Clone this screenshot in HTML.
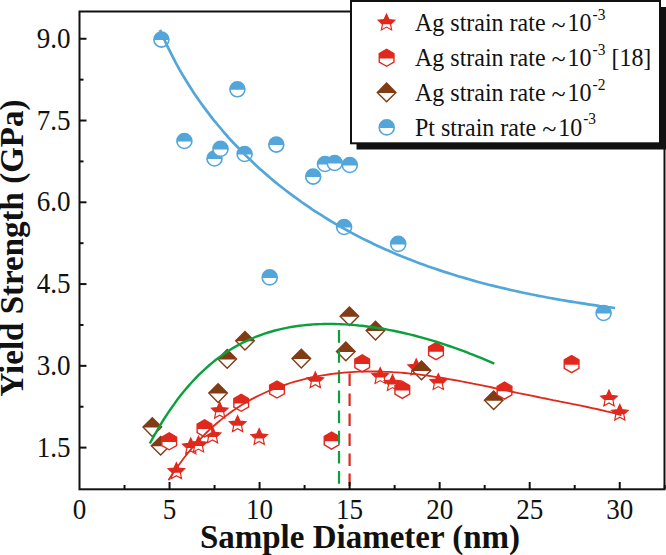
<!DOCTYPE html>
<html><head><meta charset="utf-8"><style>
html,body{margin:0;padding:0;background:#fff;}
svg{display:block;}
text{font-family:"Liberation Serif",serif;}
</style></head><body>
<svg width="666" height="555" viewBox="0 0 666 555">
<rect width="666" height="555" fill="#fff"/>
<path d="M176.40,462.80 L173.95,468.12 L168.13,468.81 L172.43,472.79 L171.29,478.54 L176.40,475.68 L181.51,478.54 L180.37,472.79 L184.67,468.81 L178.85,468.12Z" fill="#fff"/><clipPath id="c1"><rect x="163.4" y="458.5" width="26" height="14.2"/></clipPath><path d="M176.40,462.80 L173.95,468.12 L168.13,468.81 L172.43,472.79 L171.29,478.54 L176.40,475.68 L181.51,478.54 L180.37,472.79 L184.67,468.81 L178.85,468.12Z" fill="#e0281c" clip-path="url(#c1)"/><path d="M176.40,462.80 L173.95,468.12 L168.13,468.81 L172.43,472.79 L171.29,478.54 L176.40,475.68 L181.51,478.54 L180.37,472.79 L184.67,468.81 L178.85,468.12Z" fill="none" stroke="#e0281c" stroke-width="1.2" stroke-linejoin="miter" stroke-miterlimit="10"/>
<path d="M190.80,438.10 L188.35,443.42 L182.53,444.11 L186.83,448.09 L185.69,453.84 L190.80,450.98 L195.91,453.84 L194.77,448.09 L199.07,444.11 L193.25,443.42Z" fill="#fff"/><clipPath id="c2"><rect x="177.8" y="433.8" width="26" height="14.2"/></clipPath><path d="M190.80,438.10 L188.35,443.42 L182.53,444.11 L186.83,448.09 L185.69,453.84 L190.80,450.98 L195.91,453.84 L194.77,448.09 L199.07,444.11 L193.25,443.42Z" fill="#e0281c" clip-path="url(#c2)"/><path d="M190.80,438.10 L188.35,443.42 L182.53,444.11 L186.83,448.09 L185.69,453.84 L190.80,450.98 L195.91,453.84 L194.77,448.09 L199.07,444.11 L193.25,443.42Z" fill="none" stroke="#e0281c" stroke-width="1.2" stroke-linejoin="miter" stroke-miterlimit="10"/>
<path d="M198.50,436.20 L196.05,441.52 L190.23,442.21 L194.53,446.19 L193.39,451.94 L198.50,449.08 L203.61,451.94 L202.47,446.19 L206.77,442.21 L200.95,441.52Z" fill="#fff"/><clipPath id="c3"><rect x="185.5" y="431.90000000000003" width="26" height="14.2"/></clipPath><path d="M198.50,436.20 L196.05,441.52 L190.23,442.21 L194.53,446.19 L193.39,451.94 L198.50,449.08 L203.61,451.94 L202.47,446.19 L206.77,442.21 L200.95,441.52Z" fill="#e0281c" clip-path="url(#c3)"/><path d="M198.50,436.20 L196.05,441.52 L190.23,442.21 L194.53,446.19 L193.39,451.94 L198.50,449.08 L203.61,451.94 L202.47,446.19 L206.77,442.21 L200.95,441.52Z" fill="none" stroke="#e0281c" stroke-width="1.2" stroke-linejoin="miter" stroke-miterlimit="10"/>
<path d="M212.50,427.00 L210.05,432.32 L204.23,433.01 L208.53,436.99 L207.39,442.74 L212.50,439.88 L217.61,442.74 L216.47,436.99 L220.77,433.01 L214.95,432.32Z" fill="#fff"/><clipPath id="c4"><rect x="199.5" y="422.70000000000005" width="26" height="14.2"/></clipPath><path d="M212.50,427.00 L210.05,432.32 L204.23,433.01 L208.53,436.99 L207.39,442.74 L212.50,439.88 L217.61,442.74 L216.47,436.99 L220.77,433.01 L214.95,432.32Z" fill="#e0281c" clip-path="url(#c4)"/><path d="M212.50,427.00 L210.05,432.32 L204.23,433.01 L208.53,436.99 L207.39,442.74 L212.50,439.88 L217.61,442.74 L216.47,436.99 L220.77,433.01 L214.95,432.32Z" fill="none" stroke="#e0281c" stroke-width="1.2" stroke-linejoin="miter" stroke-miterlimit="10"/>
<path d="M219.70,402.30 L217.25,407.62 L211.43,408.31 L215.73,412.29 L214.59,418.04 L219.70,415.18 L224.81,418.04 L223.67,412.29 L227.97,408.31 L222.15,407.62Z" fill="#fff"/><clipPath id="c5"><rect x="206.7" y="398.0" width="26" height="14.2"/></clipPath><path d="M219.70,402.30 L217.25,407.62 L211.43,408.31 L215.73,412.29 L214.59,418.04 L219.70,415.18 L224.81,418.04 L223.67,412.29 L227.97,408.31 L222.15,407.62Z" fill="#e0281c" clip-path="url(#c5)"/><path d="M219.70,402.30 L217.25,407.62 L211.43,408.31 L215.73,412.29 L214.59,418.04 L219.70,415.18 L224.81,418.04 L223.67,412.29 L227.97,408.31 L222.15,407.62Z" fill="none" stroke="#e0281c" stroke-width="1.2" stroke-linejoin="miter" stroke-miterlimit="10"/>
<path d="M237.60,415.80 L235.15,421.12 L229.33,421.81 L233.63,425.79 L232.49,431.54 L237.60,428.68 L242.71,431.54 L241.57,425.79 L245.87,421.81 L240.05,421.12Z" fill="#fff"/><clipPath id="c6"><rect x="224.6" y="411.5" width="26" height="14.2"/></clipPath><path d="M237.60,415.80 L235.15,421.12 L229.33,421.81 L233.63,425.79 L232.49,431.54 L237.60,428.68 L242.71,431.54 L241.57,425.79 L245.87,421.81 L240.05,421.12Z" fill="#e0281c" clip-path="url(#c6)"/><path d="M237.60,415.80 L235.15,421.12 L229.33,421.81 L233.63,425.79 L232.49,431.54 L237.60,428.68 L242.71,431.54 L241.57,425.79 L245.87,421.81 L240.05,421.12Z" fill="none" stroke="#e0281c" stroke-width="1.2" stroke-linejoin="miter" stroke-miterlimit="10"/>
<path d="M259.20,428.60 L256.75,433.92 L250.93,434.61 L255.23,438.59 L254.09,444.34 L259.20,441.48 L264.31,444.34 L263.17,438.59 L267.47,434.61 L261.65,433.92Z" fill="#fff"/><clipPath id="c7"><rect x="246.2" y="424.3" width="26" height="14.2"/></clipPath><path d="M259.20,428.60 L256.75,433.92 L250.93,434.61 L255.23,438.59 L254.09,444.34 L259.20,441.48 L264.31,444.34 L263.17,438.59 L267.47,434.61 L261.65,433.92Z" fill="#e0281c" clip-path="url(#c7)"/><path d="M259.20,428.60 L256.75,433.92 L250.93,434.61 L255.23,438.59 L254.09,444.34 L259.20,441.48 L264.31,444.34 L263.17,438.59 L267.47,434.61 L261.65,433.92Z" fill="none" stroke="#e0281c" stroke-width="1.2" stroke-linejoin="miter" stroke-miterlimit="10"/>
<path d="M315.30,371.90 L312.85,377.22 L307.03,377.91 L311.33,381.89 L310.19,387.64 L315.30,384.78 L320.41,387.64 L319.27,381.89 L323.57,377.91 L317.75,377.22Z" fill="#fff"/><clipPath id="c8"><rect x="302.3" y="367.6" width="26" height="14.2"/></clipPath><path d="M315.30,371.90 L312.85,377.22 L307.03,377.91 L311.33,381.89 L310.19,387.64 L315.30,384.78 L320.41,387.64 L319.27,381.89 L323.57,377.91 L317.75,377.22Z" fill="#e0281c" clip-path="url(#c8)"/><path d="M315.30,371.90 L312.85,377.22 L307.03,377.91 L311.33,381.89 L310.19,387.64 L315.30,384.78 L320.41,387.64 L319.27,381.89 L323.57,377.91 L317.75,377.22Z" fill="none" stroke="#e0281c" stroke-width="1.2" stroke-linejoin="miter" stroke-miterlimit="10"/>
<path d="M380.20,367.70 L377.75,373.02 L371.93,373.71 L376.23,377.69 L375.09,383.44 L380.20,380.58 L385.31,383.44 L384.17,377.69 L388.47,373.71 L382.65,373.02Z" fill="#fff"/><clipPath id="c9"><rect x="367.2" y="363.40000000000003" width="26" height="14.2"/></clipPath><path d="M380.20,367.70 L377.75,373.02 L371.93,373.71 L376.23,377.69 L375.09,383.44 L380.20,380.58 L385.31,383.44 L384.17,377.69 L388.47,373.71 L382.65,373.02Z" fill="#e0281c" clip-path="url(#c9)"/><path d="M380.20,367.70 L377.75,373.02 L371.93,373.71 L376.23,377.69 L375.09,383.44 L380.20,380.58 L385.31,383.44 L384.17,377.69 L388.47,373.71 L382.65,373.02Z" fill="none" stroke="#e0281c" stroke-width="1.2" stroke-linejoin="miter" stroke-miterlimit="10"/>
<path d="M392.50,374.70 L390.05,380.02 L384.23,380.71 L388.53,384.69 L387.39,390.44 L392.50,387.58 L397.61,390.44 L396.47,384.69 L400.77,380.71 L394.95,380.02Z" fill="#fff"/><clipPath id="c10"><rect x="379.5" y="370.40000000000003" width="26" height="14.2"/></clipPath><path d="M392.50,374.70 L390.05,380.02 L384.23,380.71 L388.53,384.69 L387.39,390.44 L392.50,387.58 L397.61,390.44 L396.47,384.69 L400.77,380.71 L394.95,380.02Z" fill="#e0281c" clip-path="url(#c10)"/><path d="M392.50,374.70 L390.05,380.02 L384.23,380.71 L388.53,384.69 L387.39,390.44 L392.50,387.58 L397.61,390.44 L396.47,384.69 L400.77,380.71 L394.95,380.02Z" fill="none" stroke="#e0281c" stroke-width="1.2" stroke-linejoin="miter" stroke-miterlimit="10"/>
<path d="M416.20,359.00 L413.75,364.32 L407.93,365.01 L412.23,368.99 L411.09,374.74 L416.20,371.88 L421.31,374.74 L420.17,368.99 L424.47,365.01 L418.65,364.32Z" fill="#fff"/><clipPath id="c11"><rect x="403.2" y="354.70000000000005" width="26" height="14.2"/></clipPath><path d="M416.20,359.00 L413.75,364.32 L407.93,365.01 L412.23,368.99 L411.09,374.74 L416.20,371.88 L421.31,374.74 L420.17,368.99 L424.47,365.01 L418.65,364.32Z" fill="#e0281c" clip-path="url(#c11)"/><path d="M416.20,359.00 L413.75,364.32 L407.93,365.01 L412.23,368.99 L411.09,374.74 L416.20,371.88 L421.31,374.74 L420.17,368.99 L424.47,365.01 L418.65,364.32Z" fill="none" stroke="#e0281c" stroke-width="1.2" stroke-linejoin="miter" stroke-miterlimit="10"/>
<path d="M438.30,373.70 L435.85,379.02 L430.03,379.71 L434.33,383.69 L433.19,389.44 L438.30,386.58 L443.41,389.44 L442.27,383.69 L446.57,379.71 L440.75,379.02Z" fill="#fff"/><clipPath id="c12"><rect x="425.3" y="369.40000000000003" width="26" height="14.2"/></clipPath><path d="M438.30,373.70 L435.85,379.02 L430.03,379.71 L434.33,383.69 L433.19,389.44 L438.30,386.58 L443.41,389.44 L442.27,383.69 L446.57,379.71 L440.75,379.02Z" fill="#e0281c" clip-path="url(#c12)"/><path d="M438.30,373.70 L435.85,379.02 L430.03,379.71 L434.33,383.69 L433.19,389.44 L438.30,386.58 L443.41,389.44 L442.27,383.69 L446.57,379.71 L440.75,379.02Z" fill="none" stroke="#e0281c" stroke-width="1.2" stroke-linejoin="miter" stroke-miterlimit="10"/>
<path d="M609.00,390.10 L606.55,395.42 L600.73,396.11 L605.03,400.09 L603.89,405.84 L609.00,402.98 L614.11,405.84 L612.97,400.09 L617.27,396.11 L611.45,395.42Z" fill="#fff"/><clipPath id="c13"><rect x="596" y="385.8" width="26" height="14.2"/></clipPath><path d="M609.00,390.10 L606.55,395.42 L600.73,396.11 L605.03,400.09 L603.89,405.84 L609.00,402.98 L614.11,405.84 L612.97,400.09 L617.27,396.11 L611.45,395.42Z" fill="#e0281c" clip-path="url(#c13)"/><path d="M609.00,390.10 L606.55,395.42 L600.73,396.11 L605.03,400.09 L603.89,405.84 L609.00,402.98 L614.11,405.84 L612.97,400.09 L617.27,396.11 L611.45,395.42Z" fill="none" stroke="#e0281c" stroke-width="1.2" stroke-linejoin="miter" stroke-miterlimit="10"/>
<path d="M619.80,404.40 L617.35,409.72 L611.53,410.41 L615.83,414.39 L614.69,420.14 L619.80,417.28 L624.91,420.14 L623.77,414.39 L628.07,410.41 L622.25,409.72Z" fill="#fff"/><clipPath id="c14"><rect x="606.8" y="400.1" width="26" height="14.2"/></clipPath><path d="M619.80,404.40 L617.35,409.72 L611.53,410.41 L615.83,414.39 L614.69,420.14 L619.80,417.28 L624.91,420.14 L623.77,414.39 L628.07,410.41 L622.25,409.72Z" fill="#e0281c" clip-path="url(#c14)"/><path d="M619.80,404.40 L617.35,409.72 L611.53,410.41 L615.83,414.39 L614.69,420.14 L619.80,417.28 L624.91,420.14 L623.77,414.39 L628.07,410.41 L622.25,409.72Z" fill="none" stroke="#e0281c" stroke-width="1.2" stroke-linejoin="miter" stroke-miterlimit="10"/>
<path d="M152.30,417.80 L161.60,427.10 L152.30,436.40 L143.00,427.10Z" fill="#fff"/><clipPath id="c15"><rect x="139.3" y="414.1" width="26" height="13.5"/></clipPath><path d="M152.30,417.80 L161.60,427.10 L152.30,436.40 L143.00,427.10Z" fill="#813b15" clip-path="url(#c15)"/><path d="M152.30,417.80 L161.60,427.10 L152.30,436.40 L143.00,427.10Z" fill="none" stroke="#813b15" stroke-width="1.4" stroke-linejoin="miter" stroke-miterlimit="10"/>
<path d="M160.60,436.50 L169.90,445.80 L160.60,455.10 L151.30,445.80Z" fill="#fff"/><clipPath id="c16"><rect x="147.6" y="432.8" width="26" height="13.5"/></clipPath><path d="M160.60,436.50 L169.90,445.80 L160.60,455.10 L151.30,445.80Z" fill="#813b15" clip-path="url(#c16)"/><path d="M160.60,436.50 L169.90,445.80 L160.60,455.10 L151.30,445.80Z" fill="none" stroke="#813b15" stroke-width="1.4" stroke-linejoin="miter" stroke-miterlimit="10"/>
<path d="M218.10,383.80 L227.40,393.10 L218.10,402.40 L208.80,393.10Z" fill="#fff"/><clipPath id="c17"><rect x="205.1" y="380.1" width="26" height="13.5"/></clipPath><path d="M218.10,383.80 L227.40,393.10 L218.10,402.40 L208.80,393.10Z" fill="#813b15" clip-path="url(#c17)"/><path d="M218.10,383.80 L227.40,393.10 L218.10,402.40 L208.80,393.10Z" fill="none" stroke="#813b15" stroke-width="1.4" stroke-linejoin="miter" stroke-miterlimit="10"/>
<path d="M227.20,349.60 L236.50,358.90 L227.20,368.20 L217.90,358.90Z" fill="#fff"/><clipPath id="c18"><rect x="214.2" y="345.9" width="26" height="13.5"/></clipPath><path d="M227.20,349.60 L236.50,358.90 L227.20,368.20 L217.90,358.90Z" fill="#813b15" clip-path="url(#c18)"/><path d="M227.20,349.60 L236.50,358.90 L227.20,368.20 L217.90,358.90Z" fill="none" stroke="#813b15" stroke-width="1.4" stroke-linejoin="miter" stroke-miterlimit="10"/>
<path d="M245.00,331.50 L254.30,340.80 L245.00,350.10 L235.70,340.80Z" fill="#fff"/><clipPath id="c19"><rect x="232" y="327.8" width="26" height="13.5"/></clipPath><path d="M245.00,331.50 L254.30,340.80 L245.00,350.10 L235.70,340.80Z" fill="#813b15" clip-path="url(#c19)"/><path d="M245.00,331.50 L254.30,340.80 L245.00,350.10 L235.70,340.80Z" fill="none" stroke="#813b15" stroke-width="1.4" stroke-linejoin="miter" stroke-miterlimit="10"/>
<path d="M301.30,349.30 L310.60,358.60 L301.30,367.90 L292.00,358.60Z" fill="#fff"/><clipPath id="c20"><rect x="288.3" y="345.6" width="26" height="13.5"/></clipPath><path d="M301.30,349.30 L310.60,358.60 L301.30,367.90 L292.00,358.60Z" fill="#813b15" clip-path="url(#c20)"/><path d="M301.30,349.30 L310.60,358.60 L301.30,367.90 L292.00,358.60Z" fill="none" stroke="#813b15" stroke-width="1.4" stroke-linejoin="miter" stroke-miterlimit="10"/>
<path d="M345.80,342.10 L355.10,351.40 L345.80,360.70 L336.50,351.40Z" fill="#fff"/><clipPath id="c21"><rect x="332.8" y="338.4" width="26" height="13.5"/></clipPath><path d="M345.80,342.10 L355.10,351.40 L345.80,360.70 L336.50,351.40Z" fill="#813b15" clip-path="url(#c21)"/><path d="M345.80,342.10 L355.10,351.40 L345.80,360.70 L336.50,351.40Z" fill="none" stroke="#813b15" stroke-width="1.4" stroke-linejoin="miter" stroke-miterlimit="10"/>
<path d="M349.40,306.90 L358.70,316.20 L349.40,325.50 L340.10,316.20Z" fill="#fff"/><clipPath id="c22"><rect x="336.4" y="303.2" width="26" height="13.5"/></clipPath><path d="M349.40,306.90 L358.70,316.20 L349.40,325.50 L340.10,316.20Z" fill="#813b15" clip-path="url(#c22)"/><path d="M349.40,306.90 L358.70,316.20 L349.40,325.50 L340.10,316.20Z" fill="none" stroke="#813b15" stroke-width="1.4" stroke-linejoin="miter" stroke-miterlimit="10"/>
<path d="M375.50,321.30 L384.80,330.60 L375.50,339.90 L366.20,330.60Z" fill="#fff"/><clipPath id="c23"><rect x="362.5" y="317.6" width="26" height="13.5"/></clipPath><path d="M375.50,321.30 L384.80,330.60 L375.50,339.90 L366.20,330.60Z" fill="#813b15" clip-path="url(#c23)"/><path d="M375.50,321.30 L384.80,330.60 L375.50,339.90 L366.20,330.60Z" fill="none" stroke="#813b15" stroke-width="1.4" stroke-linejoin="miter" stroke-miterlimit="10"/>
<path d="M421.50,361.10 L430.80,370.40 L421.50,379.70 L412.20,370.40Z" fill="#fff"/><clipPath id="c24"><rect x="408.5" y="357.4" width="26" height="13.5"/></clipPath><path d="M421.50,361.10 L430.80,370.40 L421.50,379.70 L412.20,370.40Z" fill="#813b15" clip-path="url(#c24)"/><path d="M421.50,361.10 L430.80,370.40 L421.50,379.70 L412.20,370.40Z" fill="none" stroke="#813b15" stroke-width="1.4" stroke-linejoin="miter" stroke-miterlimit="10"/>
<path d="M493.70,391.00 L503.00,400.30 L493.70,409.60 L484.40,400.30Z" fill="#fff"/><clipPath id="c25"><rect x="480.7" y="387.3" width="26" height="13.5"/></clipPath><path d="M493.70,391.00 L503.00,400.30 L493.70,409.60 L484.40,400.30Z" fill="#813b15" clip-path="url(#c25)"/><path d="M493.70,391.00 L503.00,400.30 L493.70,409.60 L484.40,400.30Z" fill="none" stroke="#813b15" stroke-width="1.4" stroke-linejoin="miter" stroke-miterlimit="10"/>
<path d="M169.20,432.80 L161.84,437.05 L161.84,445.55 L169.20,449.80 L176.56,445.55 L176.56,437.05Z" fill="#fff"/><clipPath id="c26"><rect x="156.2" y="428.3" width="26" height="13.6"/></clipPath><path d="M169.20,432.80 L161.84,437.05 L161.84,445.55 L169.20,449.80 L176.56,445.55 L176.56,437.05Z" fill="#e0281c" clip-path="url(#c26)"/><path d="M169.20,432.80 L161.84,437.05 L161.84,445.55 L169.20,449.80 L176.56,445.55 L176.56,437.05Z" fill="none" stroke="#e0281c" stroke-width="1.4" stroke-linejoin="miter" stroke-miterlimit="10"/>
<path d="M204.50,419.90 L197.14,424.15 L197.14,432.65 L204.50,436.90 L211.86,432.65 L211.86,424.15Z" fill="#fff"/><clipPath id="c27"><rect x="191.5" y="415.4" width="26" height="13.6"/></clipPath><path d="M204.50,419.90 L197.14,424.15 L197.14,432.65 L204.50,436.90 L211.86,432.65 L211.86,424.15Z" fill="#e0281c" clip-path="url(#c27)"/><path d="M204.50,419.90 L197.14,424.15 L197.14,432.65 L204.50,436.90 L211.86,432.65 L211.86,424.15Z" fill="none" stroke="#e0281c" stroke-width="1.4" stroke-linejoin="miter" stroke-miterlimit="10"/>
<path d="M241.20,394.30 L233.84,398.55 L233.84,407.05 L241.20,411.30 L248.56,407.05 L248.56,398.55Z" fill="#fff"/><clipPath id="c28"><rect x="228.2" y="389.8" width="26" height="13.6"/></clipPath><path d="M241.20,394.30 L233.84,398.55 L233.84,407.05 L241.20,411.30 L248.56,407.05 L248.56,398.55Z" fill="#e0281c" clip-path="url(#c28)"/><path d="M241.20,394.30 L233.84,398.55 L233.84,407.05 L241.20,411.30 L248.56,407.05 L248.56,398.55Z" fill="none" stroke="#e0281c" stroke-width="1.4" stroke-linejoin="miter" stroke-miterlimit="10"/>
<path d="M277.00,381.00 L269.64,385.25 L269.64,393.75 L277.00,398.00 L284.36,393.75 L284.36,385.25Z" fill="#fff"/><clipPath id="c29"><rect x="264" y="376.5" width="26" height="13.6"/></clipPath><path d="M277.00,381.00 L269.64,385.25 L269.64,393.75 L277.00,398.00 L284.36,393.75 L284.36,385.25Z" fill="#e0281c" clip-path="url(#c29)"/><path d="M277.00,381.00 L269.64,385.25 L269.64,393.75 L277.00,398.00 L284.36,393.75 L284.36,385.25Z" fill="none" stroke="#e0281c" stroke-width="1.4" stroke-linejoin="miter" stroke-miterlimit="10"/>
<path d="M331.60,432.10 L324.24,436.35 L324.24,444.85 L331.60,449.10 L338.96,444.85 L338.96,436.35Z" fill="#fff"/><clipPath id="c30"><rect x="318.6" y="427.6" width="26" height="13.6"/></clipPath><path d="M331.60,432.10 L324.24,436.35 L324.24,444.85 L331.60,449.10 L338.96,444.85 L338.96,436.35Z" fill="#e0281c" clip-path="url(#c30)"/><path d="M331.60,432.10 L324.24,436.35 L324.24,444.85 L331.60,449.10 L338.96,444.85 L338.96,436.35Z" fill="none" stroke="#e0281c" stroke-width="1.4" stroke-linejoin="miter" stroke-miterlimit="10"/>
<path d="M362.20,354.90 L354.84,359.15 L354.84,367.65 L362.20,371.90 L369.56,367.65 L369.56,359.15Z" fill="#fff"/><clipPath id="c31"><rect x="349.2" y="350.4" width="26" height="13.6"/></clipPath><path d="M362.20,354.90 L354.84,359.15 L354.84,367.65 L362.20,371.90 L369.56,367.65 L369.56,359.15Z" fill="#e0281c" clip-path="url(#c31)"/><path d="M362.20,354.90 L354.84,359.15 L354.84,367.65 L362.20,371.90 L369.56,367.65 L369.56,359.15Z" fill="none" stroke="#e0281c" stroke-width="1.4" stroke-linejoin="miter" stroke-miterlimit="10"/>
<path d="M402.30,381.40 L394.94,385.65 L394.94,394.15 L402.30,398.40 L409.66,394.15 L409.66,385.65Z" fill="#fff"/><clipPath id="c32"><rect x="389.3" y="376.9" width="26" height="13.6"/></clipPath><path d="M402.30,381.40 L394.94,385.65 L394.94,394.15 L402.30,398.40 L409.66,394.15 L409.66,385.65Z" fill="#e0281c" clip-path="url(#c32)"/><path d="M402.30,381.40 L394.94,385.65 L394.94,394.15 L402.30,398.40 L409.66,394.15 L409.66,385.65Z" fill="none" stroke="#e0281c" stroke-width="1.4" stroke-linejoin="miter" stroke-miterlimit="10"/>
<path d="M436.00,342.70 L428.64,346.95 L428.64,355.45 L436.00,359.70 L443.36,355.45 L443.36,346.95Z" fill="#fff"/><clipPath id="c33"><rect x="423" y="338.2" width="26" height="13.6"/></clipPath><path d="M436.00,342.70 L428.64,346.95 L428.64,355.45 L436.00,359.70 L443.36,355.45 L443.36,346.95Z" fill="#e0281c" clip-path="url(#c33)"/><path d="M436.00,342.70 L428.64,346.95 L428.64,355.45 L436.00,359.70 L443.36,355.45 L443.36,346.95Z" fill="none" stroke="#e0281c" stroke-width="1.4" stroke-linejoin="miter" stroke-miterlimit="10"/>
<path d="M504.50,382.10 L497.14,386.35 L497.14,394.85 L504.50,399.10 L511.86,394.85 L511.86,386.35Z" fill="#fff"/><clipPath id="c34"><rect x="491.5" y="377.6" width="26" height="13.6"/></clipPath><path d="M504.50,382.10 L497.14,386.35 L497.14,394.85 L504.50,399.10 L511.86,394.85 L511.86,386.35Z" fill="#e0281c" clip-path="url(#c34)"/><path d="M504.50,382.10 L497.14,386.35 L497.14,394.85 L504.50,399.10 L511.86,394.85 L511.86,386.35Z" fill="none" stroke="#e0281c" stroke-width="1.4" stroke-linejoin="miter" stroke-miterlimit="10"/>
<path d="M571.60,355.60 L564.24,359.85 L564.24,368.35 L571.60,372.60 L578.96,368.35 L578.96,359.85Z" fill="#fff"/><clipPath id="c35"><rect x="558.6" y="351.1" width="26" height="13.6"/></clipPath><path d="M571.60,355.60 L564.24,359.85 L564.24,368.35 L571.60,372.60 L578.96,368.35 L578.96,359.85Z" fill="#e0281c" clip-path="url(#c35)"/><path d="M571.60,355.60 L564.24,359.85 L564.24,368.35 L571.60,372.60 L578.96,368.35 L578.96,359.85Z" fill="none" stroke="#e0281c" stroke-width="1.4" stroke-linejoin="miter" stroke-miterlimit="10"/>
<circle cx="161.4" cy="39.6" r="7.5" fill="#fff"/><clipPath id="c36"><rect x="149.4" y="27.6" width="24" height="12.5"/></clipPath><circle cx="161.4" cy="39.6" r="7.5" fill="#52a6d9" clip-path="url(#c36)"/><circle cx="161.4" cy="39.6" r="7.5" fill="#fff" fill-opacity="0" stroke="#52a6d9" stroke-width="1.6"/>
<circle cx="237.4" cy="89.3" r="7.5" fill="#fff"/><clipPath id="c37"><rect x="225.4" y="77.3" width="24" height="12.5"/></clipPath><circle cx="237.4" cy="89.3" r="7.5" fill="#52a6d9" clip-path="url(#c37)"/><circle cx="237.4" cy="89.3" r="7.5" fill="#fff" fill-opacity="0" stroke="#52a6d9" stroke-width="1.6"/>
<circle cx="184.4" cy="141" r="7.5" fill="#fff"/><clipPath id="c38"><rect x="172.4" y="129" width="24" height="12.5"/></clipPath><circle cx="184.4" cy="141" r="7.5" fill="#52a6d9" clip-path="url(#c38)"/><circle cx="184.4" cy="141" r="7.5" fill="#fff" fill-opacity="0" stroke="#52a6d9" stroke-width="1.6"/>
<circle cx="214.5" cy="158.5" r="7.5" fill="#fff"/><clipPath id="c39"><rect x="202.5" y="146.5" width="24" height="12.5"/></clipPath><circle cx="214.5" cy="158.5" r="7.5" fill="#52a6d9" clip-path="url(#c39)"/><circle cx="214.5" cy="158.5" r="7.5" fill="#fff" fill-opacity="0" stroke="#52a6d9" stroke-width="1.6"/>
<circle cx="220.5" cy="148.9" r="7.5" fill="#fff"/><clipPath id="c40"><rect x="208.5" y="136.9" width="24" height="12.5"/></clipPath><circle cx="220.5" cy="148.9" r="7.5" fill="#52a6d9" clip-path="url(#c40)"/><circle cx="220.5" cy="148.9" r="7.5" fill="#fff" fill-opacity="0" stroke="#52a6d9" stroke-width="1.6"/>
<circle cx="244.6" cy="154" r="7.5" fill="#fff"/><clipPath id="c41"><rect x="232.6" y="142" width="24" height="12.5"/></clipPath><circle cx="244.6" cy="154" r="7.5" fill="#52a6d9" clip-path="url(#c41)"/><circle cx="244.6" cy="154" r="7.5" fill="#fff" fill-opacity="0" stroke="#52a6d9" stroke-width="1.6"/>
<circle cx="276.3" cy="144.6" r="7.5" fill="#fff"/><clipPath id="c42"><rect x="264.3" y="132.6" width="24" height="12.5"/></clipPath><circle cx="276.3" cy="144.6" r="7.5" fill="#52a6d9" clip-path="url(#c42)"/><circle cx="276.3" cy="144.6" r="7.5" fill="#fff" fill-opacity="0" stroke="#52a6d9" stroke-width="1.6"/>
<circle cx="313.2" cy="176.6" r="7.5" fill="#fff"/><clipPath id="c43"><rect x="301.2" y="164.6" width="24" height="12.5"/></clipPath><circle cx="313.2" cy="176.6" r="7.5" fill="#52a6d9" clip-path="url(#c43)"/><circle cx="313.2" cy="176.6" r="7.5" fill="#fff" fill-opacity="0" stroke="#52a6d9" stroke-width="1.6"/>
<circle cx="325" cy="164" r="7.5" fill="#fff"/><clipPath id="c44"><rect x="313" y="152" width="24" height="12.5"/></clipPath><circle cx="325" cy="164" r="7.5" fill="#52a6d9" clip-path="url(#c44)"/><circle cx="325" cy="164" r="7.5" fill="#fff" fill-opacity="0" stroke="#52a6d9" stroke-width="1.6"/>
<circle cx="334.7" cy="163" r="7.5" fill="#fff"/><clipPath id="c45"><rect x="322.7" y="151" width="24" height="12.5"/></clipPath><circle cx="334.7" cy="163" r="7.5" fill="#52a6d9" clip-path="url(#c45)"/><circle cx="334.7" cy="163" r="7.5" fill="#fff" fill-opacity="0" stroke="#52a6d9" stroke-width="1.6"/>
<circle cx="349.8" cy="165" r="7.5" fill="#fff"/><clipPath id="c46"><rect x="337.8" y="153" width="24" height="12.5"/></clipPath><circle cx="349.8" cy="165" r="7.5" fill="#52a6d9" clip-path="url(#c46)"/><circle cx="349.8" cy="165" r="7.5" fill="#fff" fill-opacity="0" stroke="#52a6d9" stroke-width="1.6"/>
<circle cx="344.1" cy="227" r="7.5" fill="#fff"/><clipPath id="c47"><rect x="332.1" y="215" width="24" height="12.5"/></clipPath><circle cx="344.1" cy="227" r="7.5" fill="#52a6d9" clip-path="url(#c47)"/><circle cx="344.1" cy="227" r="7.5" fill="#fff" fill-opacity="0" stroke="#52a6d9" stroke-width="1.6"/>
<circle cx="398.2" cy="243.9" r="7.5" fill="#fff"/><clipPath id="c48"><rect x="386.2" y="231.9" width="24" height="12.5"/></clipPath><circle cx="398.2" cy="243.9" r="7.5" fill="#52a6d9" clip-path="url(#c48)"/><circle cx="398.2" cy="243.9" r="7.5" fill="#fff" fill-opacity="0" stroke="#52a6d9" stroke-width="1.6"/>
<circle cx="269.7" cy="277.4" r="7.5" fill="#fff"/><clipPath id="c49"><rect x="257.7" y="265.4" width="24" height="12.5"/></clipPath><circle cx="269.7" cy="277.4" r="7.5" fill="#52a6d9" clip-path="url(#c49)"/><circle cx="269.7" cy="277.4" r="7.5" fill="#fff" fill-opacity="0" stroke="#52a6d9" stroke-width="1.6"/>
<circle cx="603.6" cy="313" r="7.5" fill="#fff"/><clipPath id="c50"><rect x="591.6" y="301" width="24" height="12.5"/></clipPath><circle cx="603.6" cy="313" r="7.5" fill="#52a6d9" clip-path="url(#c50)"/><circle cx="603.6" cy="313" r="7.5" fill="#fff" fill-opacity="0" stroke="#52a6d9" stroke-width="1.6"/>
<g fill="none">
<path d="M149.8,443.5 L153.3,437.1 L156.8,431.0 L160.2,425.1 L163.7,419.5 L167.2,414.1 L170.7,409.0 L174.2,404.1 L177.6,399.3 L181.1,394.8 L184.6,390.5 L188.1,386.4 L191.6,382.5 L195.0,378.8 L198.5,375.2 L202.0,371.8 L205.5,368.6 L209.0,365.5 L212.4,362.6 L215.9,359.8 L219.4,357.2 L222.9,354.7 L226.4,352.3 L229.8,350.0 L233.3,347.9 L236.8,345.9 L240.3,344.0 L243.8,342.2 L247.2,340.6 L250.7,339.0 L254.2,337.5 L257.7,336.1 L261.2,334.8 L264.6,333.6 L268.1,332.5 L271.6,331.5 L275.1,330.5 L278.6,329.6 L282.0,328.8 L285.5,328.1 L289.0,327.4 L292.5,326.8 L296.0,326.3 L299.4,325.8 L302.9,325.4 L306.4,325.0 L309.9,324.7 L313.4,324.4 L316.8,324.2 L320.3,324.1 L323.8,324.0 L327.3,323.9 L330.7,323.9 L334.2,324.0 L337.7,324.1 L341.2,324.2 L344.7,324.4 L348.1,324.6 L351.6,324.8 L355.1,325.1 L358.6,325.5 L362.1,325.8 L365.5,326.2 L369.0,326.7 L372.5,327.2 L376.0,327.7 L379.5,328.2 L382.9,328.8 L386.4,329.4 L389.9,330.1 L393.4,330.8 L396.9,331.5 L400.3,332.2 L403.8,333.0 L407.3,333.8 L410.8,334.7 L414.3,335.5 L417.7,336.5 L421.2,337.4 L424.7,338.4 L428.2,339.4 L431.7,340.4 L435.1,341.4 L438.6,342.5 L442.1,343.6 L445.6,344.8 L449.1,346.0 L452.5,347.2 L456.0,348.4 L459.5,349.6 L463.0,350.9 L466.5,352.2 L469.9,353.6 L473.4,354.9 L476.9,356.3 L480.4,357.7 L483.9,359.1 L487.3,360.6 L490.8,362.1 L494.3,363.6" stroke="#0ca03c" stroke-width="2.4"/>
<line x1="339" y1="330" x2="339" y2="488" stroke="#0ca03c" stroke-width="2.2" stroke-dasharray="12.7 7.45"/>
<line x1="349.6" y1="373.5" x2="349.6" y2="488" stroke="#e0281c" stroke-width="2.2" stroke-dasharray="12.5 7.5"/>
<path d="M168.5,480.2 L172.3,474.3 L176.1,468.7 L179.9,463.4 L183.7,458.3 L187.5,453.5 L191.3,448.9 L195.1,444.5 L199.0,440.3 L202.8,436.3 L206.6,432.5 L210.4,428.9 L214.2,425.5 L218.0,422.2 L221.8,419.1 L225.6,416.1 L229.4,413.3 L233.2,410.6 L237.0,408.0 L240.8,405.6 L244.6,403.2 L248.4,401.0 L252.2,398.9 L256.1,396.9 L259.9,395.0 L263.7,393.2 L267.5,391.5 L271.3,389.9 L275.1,388.4 L278.9,386.9 L282.7,385.6 L286.5,384.3 L290.3,383.0 L294.1,381.9 L297.9,380.8 L301.7,379.8 L305.5,378.9 L309.3,378.0 L313.2,377.2 L317.0,376.4 L320.8,375.7 L324.6,375.1 L328.4,374.5 L332.2,373.9 L336.0,373.5 L339.8,373.1 L343.6,372.7 L347.4,372.4 L351.2,372.1 L355.0,371.9 L358.8,371.7 L362.6,371.6 L366.4,371.5 L370.3,371.5 L374.1,371.5 L377.9,371.5 L381.7,371.6 L385.5,371.8 L389.3,371.9 L393.1,372.2 L396.9,372.4 L400.7,372.7 L404.5,373.0 L408.3,373.4 L412.1,373.8 L415.9,374.2 L419.7,374.7 L423.6,375.2 L427.4,375.7 L431.2,376.2 L435.0,376.8 L438.8,377.4 L442.6,378.0 L446.4,378.6 L450.2,379.3 L454.0,380.0 L457.8,380.6 L461.6,381.4 L465.4,382.1 L469.2,382.8 L473.0,383.6 L476.8,384.3 L480.7,385.1 L484.5,385.9 L488.3,386.7 L492.1,387.5 L495.9,388.3 L499.7,389.1 L503.5,389.9 L507.3,390.7 L511.1,391.5 L514.9,392.3 L518.7,393.1 L522.5,393.8 L526.3,394.6 L530.1,395.4 L533.9,396.2 L537.8,397.0 L541.6,397.8 L545.4,398.5 L549.2,399.3 L553.0,400.1 L556.8,400.8 L560.6,401.6 L564.4,402.3 L568.2,403.1 L572.0,403.9 L575.8,404.6 L579.6,405.4 L583.4,406.2 L587.2,407.0 L591.0,407.8 L594.9,408.6 L598.7,409.5 L602.5,410.4 L606.3,411.3 L610.1,412.2 L613.9,413.2 L617.7,414.2 L621.5,415.3" stroke="#e0281c" stroke-width="1.8"/>
<path d="M160.0,29.9 L163.8,38.5 L167.6,46.7 L171.5,54.4 L175.3,61.8 L179.1,68.8 L182.9,75.4 L186.8,81.7 L190.6,87.8 L194.4,93.7 L198.2,99.3 L202.1,104.7 L205.9,109.9 L209.7,114.9 L213.5,119.8 L217.4,124.5 L221.2,129.0 L225.0,133.5 L228.8,137.8 L232.6,142.0 L236.5,146.0 L240.3,150.0 L244.1,153.9 L247.9,157.6 L251.8,161.3 L255.6,164.9 L259.4,168.4 L263.2,171.8 L267.1,175.1 L270.9,178.4 L274.7,181.6 L278.5,184.7 L282.4,187.7 L286.2,190.7 L290.0,193.6 L293.8,196.4 L297.6,199.2 L301.5,202.0 L305.3,204.6 L309.1,207.2 L312.9,209.8 L316.8,212.3 L320.6,214.7 L324.4,217.1 L328.2,219.5 L332.1,221.8 L335.9,224.1 L339.7,226.3 L343.5,228.4 L347.4,230.5 L351.2,232.6 L355.0,234.6 L358.8,236.6 L362.6,238.6 L366.5,240.5 L370.3,242.3 L374.1,244.2 L377.9,246.0 L381.8,247.7 L385.6,249.4 L389.4,251.1 L393.2,252.8 L397.1,254.4 L400.9,256.0 L404.7,257.5 L408.5,259.0 L412.4,260.5 L416.2,262.0 L420.0,263.4 L423.8,264.8 L427.6,266.2 L431.5,267.5 L435.3,268.8 L439.1,270.1 L442.9,271.4 L446.8,272.6 L450.6,273.8 L454.4,275.0 L458.2,276.2 L462.1,277.3 L465.9,278.4 L469.7,279.5 L473.5,280.6 L477.4,281.7 L481.2,282.7 L485.0,283.7 L488.8,284.7 L492.6,285.6 L496.5,286.6 L500.3,287.5 L504.1,288.4 L507.9,289.3 L511.8,290.2 L515.6,291.0 L519.4,291.9 L523.2,292.7 L527.1,293.5 L530.9,294.3 L534.7,295.0 L538.5,295.8 L542.4,296.5 L546.2,297.3 L550.0,298.0 L553.8,298.7 L557.6,299.3 L561.5,300.0 L565.3,300.7 L569.1,301.3 L572.9,301.9 L576.8,302.5 L580.6,303.1 L584.4,303.7 L588.2,304.3 L592.1,304.9 L595.9,305.4 L599.7,306.0 L603.5,306.5 L607.4,307.0 L611.2,307.5 L615.0,308.0" stroke="#52a6d9" stroke-width="2.7"/>
</g>
<g stroke="#111" stroke-width="2"><line x1="124.52" y1="489" x2="124.52" y2="485" />
<line x1="169.54" y1="489" x2="169.54" y2="482" />
<line x1="214.56" y1="489" x2="214.56" y2="485" />
<line x1="259.58" y1="489" x2="259.58" y2="482" />
<line x1="304.60" y1="489" x2="304.60" y2="485" />
<line x1="349.62" y1="489" x2="349.62" y2="482" />
<line x1="394.64" y1="489" x2="394.64" y2="485" />
<line x1="439.66" y1="489" x2="439.66" y2="482" />
<line x1="484.68" y1="489" x2="484.68" y2="485" />
<line x1="529.70" y1="489" x2="529.70" y2="482" />
<line x1="574.72" y1="489" x2="574.72" y2="485" />
<line x1="619.74" y1="489" x2="619.74" y2="482" />
<line x1="664.76" y1="489" x2="664.76" y2="485" />
<line x1="79.5" y1="447.61" x2="86.5" y2="447.61" />
<line x1="79.5" y1="406.73" x2="83.5" y2="406.73" />
<line x1="79.5" y1="365.84" x2="86.5" y2="365.84" />
<line x1="79.5" y1="324.96" x2="83.5" y2="324.96" />
<line x1="79.5" y1="284.07" x2="86.5" y2="284.07" />
<line x1="79.5" y1="243.18" x2="83.5" y2="243.18" />
<line x1="79.5" y1="202.30" x2="86.5" y2="202.30" />
<line x1="79.5" y1="161.41" x2="83.5" y2="161.41" />
<line x1="79.5" y1="120.53" x2="86.5" y2="120.53" />
<line x1="79.5" y1="79.64" x2="83.5" y2="79.64" />
<line x1="79.5" y1="38.76" x2="86.5" y2="38.76" /></g>
<rect x="79.5" y="11.5" width="585" height="477.8" fill="none" stroke="#111" stroke-width="2"/>
<g font-size="28.8" fill="#111"><text transform="translate(79.5,518.5) scale(0.94,1)" text-anchor="middle">0</text><text transform="translate(169.5,518.5) scale(0.94,1)" text-anchor="middle">5</text><text transform="translate(259.6,518.5) scale(0.94,1)" text-anchor="middle">10</text><text transform="translate(349.6,518.5) scale(0.94,1)" text-anchor="middle">15</text><text transform="translate(439.7,518.5) scale(0.94,1)" text-anchor="middle">20</text><text transform="translate(529.7,518.5) scale(0.94,1)" text-anchor="middle">25</text><text transform="translate(619.7,518.5) scale(0.94,1)" text-anchor="middle">30</text><text transform="translate(70.5,456.6) scale(0.94,1)" text-anchor="end">1.5</text><text transform="translate(70.5,374.8) scale(0.94,1)" text-anchor="end">3.0</text><text transform="translate(70.5,293.1) scale(0.94,1)" text-anchor="end">4.5</text><text transform="translate(70.5,211.3) scale(0.94,1)" text-anchor="end">6.0</text><text transform="translate(70.5,129.5) scale(0.94,1)" text-anchor="end">7.5</text><text transform="translate(70.5,47.8) scale(0.94,1)" text-anchor="end">9.0</text></g>
<text x="360" y="547.5" text-anchor="middle" font-size="33" font-weight="bold" fill="#111">Sample Diameter (nm)</text>
<text transform="translate(23,248) rotate(-90)" text-anchor="middle" font-size="33" font-weight="bold" fill="#111">Yield Strength (GPa)</text>
<rect x="356.5" y="7" width="311" height="142.5" fill="#111"/>
<rect x="351" y="1" width="309" height="142.3" fill="#fff" stroke="#111" stroke-width="2"/>
<clipPath id="c51"><rect x="373.5" y="9.899999999999999" width="26" height="14.4"/></clipPath><path d="M386.50,14.20 L384.05,19.52 L378.23,20.21 L382.53,24.19 L381.39,29.94 L386.50,27.08 L391.61,29.94 L390.47,24.19 L394.77,20.21 L388.95,19.52Z" fill="#e0281c" clip-path="url(#c51)"/><path d="M386.50,14.20 L384.05,19.52 L378.23,20.21 L382.53,24.19 L381.39,29.94 L386.50,27.08 L391.61,29.94 L390.47,24.19 L394.77,20.21 L388.95,19.52Z" fill="none" stroke="#e0281c" stroke-width="1.2" stroke-linejoin="miter" stroke-miterlimit="10"/>
<clipPath id="c52"><rect x="373.6" y="44.8" width="26" height="13.6"/></clipPath><path d="M386.60,49.30 L379.24,53.55 L379.24,62.05 L386.60,66.30 L393.96,62.05 L393.96,53.55Z" fill="#e0281c" clip-path="url(#c52)"/><path d="M386.60,49.30 L379.24,53.55 L379.24,62.05 L386.60,66.30 L393.96,62.05 L393.96,53.55Z" fill="none" stroke="#e0281c" stroke-width="1.4" stroke-linejoin="miter" stroke-miterlimit="10"/>
<clipPath id="c53"><rect x="373.6" y="79.4" width="26" height="13.5"/></clipPath><path d="M386.60,83.10 L395.90,92.40 L386.60,101.70 L377.30,92.40Z" fill="#813b15" clip-path="url(#c53)"/><path d="M386.60,83.10 L395.90,92.40 L386.60,101.70 L377.30,92.40Z" fill="none" stroke="#813b15" stroke-width="1.4" stroke-linejoin="miter" stroke-miterlimit="10"/>
<clipPath id="c54"><rect x="374.7" y="115.4" width="24" height="12.5"/></clipPath><circle cx="386.7" cy="127.4" r="7.5" fill="#52a6d9" clip-path="url(#c54)"/><circle cx="386.7" cy="127.4" r="7.5" fill="#fff" fill-opacity="0" stroke="#52a6d9" stroke-width="1.6"/>
<g font-size="24" fill="#111">
<text transform="translate(415,31) scale(1,1.05)">Ag strain rate <tspan font-size="26" dy="2.5">~</tspan><tspan dx="1.9" dy="-2.5">10</tspan><tspan font-size="15.5" dx="1" dy="-10.5">-3</tspan></text>
<text transform="translate(415,65.8) scale(1,1.05)">Ag strain rate <tspan font-size="26" dy="2.5">~</tspan><tspan dx="1.9" dy="-2.5">10</tspan><tspan font-size="15.5" dx="1" dy="-10.5">-3</tspan><tspan dy="10.5"> [18]</tspan></text>
<text transform="translate(415,100.8) scale(1,1.05)">Ag strain rate <tspan font-size="26" dy="2.5">~</tspan><tspan dx="1.9" dy="-2.5">10</tspan><tspan font-size="15.5" dx="1" dy="-10.5">-2</tspan></text>
<text transform="translate(415,135.5) scale(1,1.05)">Pt strain rate <tspan font-size="26" dy="2.5">~</tspan><tspan dx="1.9" dy="-2.5">10</tspan><tspan font-size="15.5" dx="1" dy="-10.5">-3</tspan></text>
</g>
</svg>
</body></html>
